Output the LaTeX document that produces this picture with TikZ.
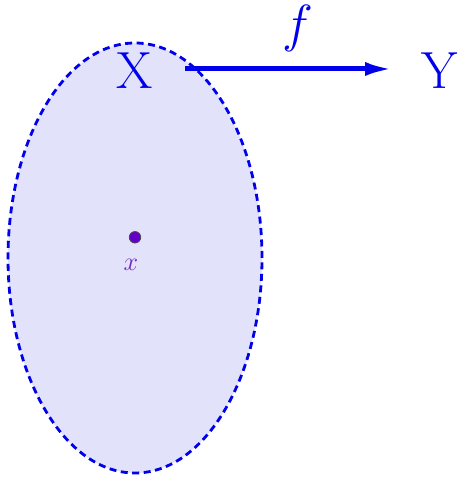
\documentclass[tikz,border=0pt]{standalone}
\usetikzlibrary{arrows.meta}
\definecolor{myblue}{RGB}{0,0,235}
\definecolor{myfill}{RGB}{226,226,250}
\definecolor{mypurple}{RGB}{100,0,200}
\definecolor{labelpurple}{RGB}{110,40,190}
\begin{document}
\begin{tikzpicture}[x=1pt,y=1pt,
  bigtext/.style={text=myblue,font=\Huge,inner sep=0pt,scale=2.1,transform shape},
]
\useasboundingbox (0,0) rectangle (461,486);
\draw[myblue,fill=myfill,line width=2.8pt,dash pattern=on 7pt off 4.5pt] (135,228) ellipse [x radius=127,y radius=215];
\node[bigtext] (X) at (134.5,415.5) {X};
\node[bigtext] (Y) at (440,415.5) {Y};
\node[bigtext] (f) at (298,458) {$f$};
\coordinate (a) at (185,417);
\coordinate (b) at (393,417);
\draw[myblue,line width=5pt,-{Latex[length=28pt,width=14pt]}] (a) -- (b);
\node[circle,fill=mypurple,draw=black!70,line width=0.8pt,minimum size=11.5pt,inner sep=0pt] (p) at (135,248.7) {};
\node[text=labelpurple,font=\Huge,scale=1.05,transform shape,inner sep=0pt] (xl) at (131,221.5) {$x$};
\end{tikzpicture}
\end{document}
